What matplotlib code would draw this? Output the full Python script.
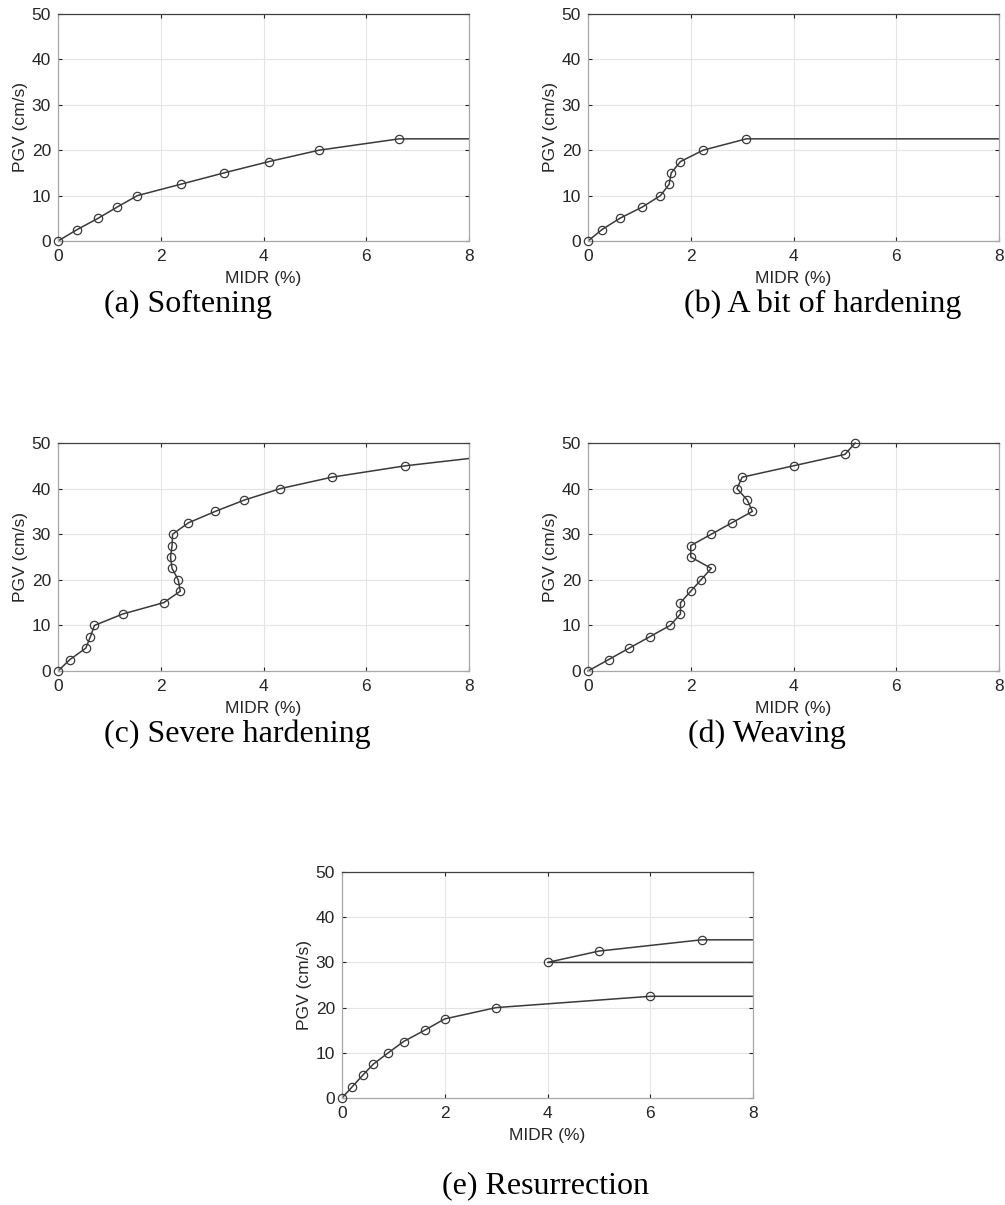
import matplotlib
matplotlib.use("Agg")
import matplotlib.pyplot as plt
import numpy as np

# ---- data ----
pgv_a = [0, 2.5, 5, 7.5, 10, 12.5, 15, 17.5, 20, 22.5]
midr_a = [0, 0.37, 0.78, 1.155, 1.545, 2.39, 3.23, 4.11, 5.08, 6.64]
tail_a = 8.0

pgv_b = [0, 2.5, 5, 7.5, 10, 12.5, 15, 17.5, 20, 22.5]
midr_b = [0, 0.27, 0.62, 1.06, 1.41, 1.58, 1.62, 1.80, 2.24, 3.08]
tail_b = 8.0

pgv_c = [0, 2.5, 5, 7.5, 10, 12.5, 15, 17.5, 20, 22.5, 25, 27.5, 30, 32.5, 35, 37.5, 40, 42.5, 45, 47.5]
midr_c = [0, 0.23, 0.54, 0.63, 0.71, 1.26, 2.06, 2.38, 2.34, 2.22, 2.19, 2.22, 2.23, 2.54, 3.06, 3.63, 4.33, 5.33, 6.76, 8.7]

pgv_d = [0, 2.5, 5, 7.5, 10, 12.5, 15, 17.5, 20, 22.5, 25, 27.5, 30, 32.5, 35, 37.5, 40, 42.5, 45, 47.5, 50]
midr_d = [0, 0.4, 0.8, 1.2, 1.6, 1.8, 1.8, 2.0, 2.2, 2.4, 2.0, 2.0, 2.4, 2.8, 3.2, 3.1, 2.9, 3.0, 4.0, 5.0, 5.2]

pgv_e1 = [0, 2.5, 5, 7.5, 10, 12.5, 15, 17.5, 20, 22.5]
midr_e1 = [0, 0.2, 0.4, 0.61, 0.9, 1.2, 1.61, 2.0, 3.0, 6.0]
pgv_e2 = [30, 32.5, 35]
midr_e2 = [4.0, 5.0, 7.0]
tail_e = 8.0

captions = ["(a) Softening", "(b) A bit of hardening", "(c) Severe hardening",
            "(d) Weaving", "(e) Resurrection"]
xticks = [0, 2, 4, 6, 8]
yticks = [0, 10, 20, 30, 40, 50]

LC = "#3a3a3a"
W, H = 1005, 1205
fig = plt.figure(figsize=(W / 100, H / 100), dpi=100)

def ax_at(x0, y0, x1, y1):
    return fig.add_axes([x0 / W, 1 - y1 / H, (x1 - x0) / W, (y1 - y0) / H])

def style(ax):
    ax.set_xlim(0, 8)
    ax.set_ylim(0, 50)
    ax.set_xticks(xticks)
    ax.set_yticks(yticks)
    ax.grid(True, color="#e4e4e4", linewidth=0.8)
    ax.set_axisbelow(True)
    ax.tick_params(direction="in", length=3, width=0.8, top=True, right=True,
                   colors="#262626", labelsize=12.5)
    ax.tick_params(axis="x", pad=6)
    ax.tick_params(axis="y", pad=5)
    for lab in ax.get_xticklabels() + ax.get_yticklabels():
        lab.set_family("Liberation Sans")
    for s in ["left", "bottom", "right"]:
        ax.spines[s].set_color("#a8a8a8")
        ax.spines[s].set_linewidth(0.9)
    ax.spines["top"].set_color("#404040")
    ax.spines["top"].set_linewidth(0.9)
    ax.set_xlabel("MIDR (%)", fontsize=12.5, family="Liberation Sans", color="#262626", labelpad=5)
    ax.set_ylabel("PGV (cm/s)", fontsize=12.5, family="Liberation Sans", color="#262626", labelpad=3)

ln = dict(color=LC, linewidth=1.1)
mk = dict(linestyle="none", marker="o", markersize=6, markerfacecolor="none",
          markeredgecolor=LC, markeredgewidth=0.9, clip_on=False, zorder=3)

# (a)
ax = ax_at(58, 14, 469, 241)
style(ax)
ax.plot(midr_a + [tail_a], pgv_a + [pgv_a[-1]], **ln)
ax.plot(midr_a, pgv_a, **mk)

# (b)
ax = ax_at(588, 14, 999, 241)
style(ax)
ax.plot(midr_b + [tail_b], pgv_b + [pgv_b[-1]], **ln)
ax.plot(midr_b, pgv_b, **mk)

# (c)
ax = ax_at(58, 443, 469, 671)
style(ax)
ax.plot(midr_c, pgv_c, **ln)
ax.plot(midr_c[:-1], pgv_c[:-1], **mk)

# (d)
ax = ax_at(588, 443, 999, 671)
style(ax)
ax.plot(midr_d, pgv_d, clip_on=False, **ln)
ax.plot(midr_d, pgv_d, **mk)

# (e)
ax = ax_at(342, 872, 753, 1098)
style(ax)
ax.plot(midr_e1 + [tail_e], pgv_e1 + [pgv_e1[-1]], **ln)
ax.plot(midr_e1, pgv_e1, **mk)
ax.plot([tail_e] + midr_e2 + [tail_e], [pgv_e2[0]] + pgv_e2 + [pgv_e2[-1]], **ln)
ax.plot(midr_e2, pgv_e2, **mk)

# captions
cap_pos = [(188, 304), (823, 304), (237, 734), (767, 734), (545, 1186)]
for txt, (cx, cy) in zip(captions, cap_pos):
    fig.text(cx / W, 1 - cy / H, txt, ha="center", va="center",
             fontsize=23, family="Liberation Serif", color="black")

fig.savefig("out.png", dpi=100, facecolor="white")
